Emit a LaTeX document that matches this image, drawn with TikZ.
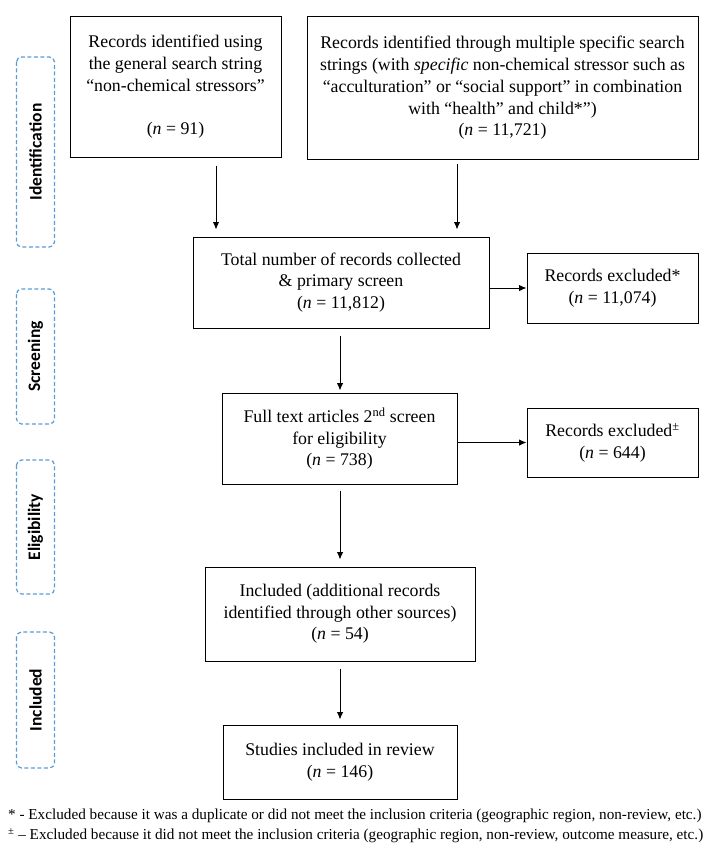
\documentclass[tikz,border=0pt]{standalone}
\usepackage{fontspec}
\setmainfont{Liberation Serif}
\newfontfamily\sidefont{Carlito}
\usetikzlibrary{arrows.meta}
\definecolor{sideblue}{RGB}{91,155,213}
\begin{document}
\begin{tikzpicture}[x=1pt,y=-1pt,
  box/.style={draw, line width=1pt, align=center, inner sep=0pt,
    font=\fontsize{17.8}{21.7}\selectfont},
  side/.style={draw=sideblue, dash pattern=on 4pt off 2.5pt, rounded corners=5pt,
    line width=1.2pt, rotate=90, minimum height=38, inner sep=0pt,
    font=\sidefont\bfseries\fontsize{17.5}{20}\selectfont},
  arr/.style={line width=1pt, -{Latex[length=7.5pt,width=6.5pt]}},
  foot/.style={anchor=west, inner sep=0pt, font=\fontsize{15.2}{17}\selectfont}]
\useasboundingbox (0,0) rectangle (711,867);
% side labels
\node[side, minimum width=190] (s1) at (35.5,152) {Identification};
\node[side, minimum width=135] (s2) at (35.5,356.5) {Screening};
\node[side, minimum width=134] (s3) at (35.5,527) {Eligibility};
\node[side, minimum width=136] (s4) at (35.5,700) {Included};
% boxes
\node[box, minimum width=211, minimum height=140] (b1) at (175.5,87)
  {Records identified using\\the general search string\\“non-chemical stressors”\\ \\(\textit{n} = 91)};
\node[box, minimum width=391, minimum height=142] (b2) at (502.5,88)
  {Records identified through multiple specific search\\strings (with \textit{specific} non-chemical stressor such as\\“acculturation” or “social support” in combination\\with “health” and child*”)\\(\textit{n} = 11,721)};
\node[box, minimum width=296, minimum height=91] (tot) at (341,282.5)
  {Total number of records collected\\\& primary screen\\(\textit{n} = 11,812)};
\node[box, minimum width=171, minimum height=70] (ex1) at (612.5,288)
  {Records excluded*\\(\textit{n} = 11,074)};
\node[box, minimum width=235, minimum height=91] (full) at (339.5,438.5)
  {Full text articles 2\textsuperscript{nd} screen\\for eligibility\\(\textit{n} = 738)};
\node[box, minimum width=171, minimum height=69] (ex2) at (612.5,442.5)
  {Records excluded\textsuperscript{±}\\(\textit{n} = 644)};
\node[box, minimum width=270, minimum height=94] (incl) at (340,614)
  {Included (additional records\\identified through other sources)\\(\textit{n} = 54)};
\node[box, minimum width=234, minimum height=74] (stud) at (340,762)
  {Studies included in review\\(\textit{n} = 146)};
% footnotes
\node[foot] (f1) at (8,816) {* - Excluded because it was a duplicate or did not meet the inclusion criteria (geographic region, non-review, etc.)};
\node[foot] (f2) at (8,836) {\textsuperscript{±} – Excluded because it did not meet the inclusion criteria (geographic region, non-review, outcome measure, etc.)};
% arrows
\draw[arr, shorten <=8pt, shorten >=7pt] ([xshift=40.5]b1.south) -- ([xshift=40.5]b1.south |- tot.north);
\draw[arr, shorten <=4pt, shorten >=7pt] ([xshift=-45.5]b2.south) -- ([xshift=-45.5]b2.south |- tot.north);
\draw[arr] (tot.east |- ex1.west) -- (ex1.west);
\draw[arr, shorten <=7pt, shorten >=2pt] (tot.south -| 340,0) -- (full.north -| 340,0);
\draw[arr] (full.east |- ex2.west) -- (ex2.west);
\draw[arr, shorten <=6pt, shorten >=7pt] (full.south -| 340,0) -- (incl.north -| 340,0);
\draw[arr, shorten <=7pt, shorten >=5pt] (incl.south) -- (stud.north);
\end{tikzpicture}
\end{document}
